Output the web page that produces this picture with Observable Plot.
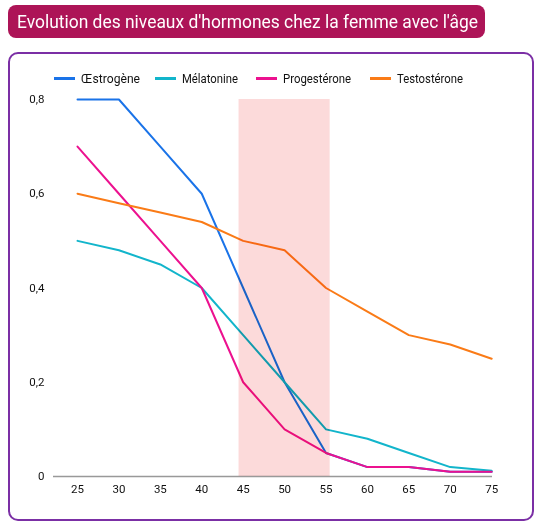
<!DOCTYPE html>
<html>
<head>
<meta charset="utf-8">
<script src="https://cdn.jsdelivr.net/npm/d3@7"></script>
<script src="https://cdn.jsdelivr.net/npm/@observablehq/plot@0.6"></script>
<style>
  html, body { margin: 0; padding: 0; background: #fff; }
  body { font-family: Roboto, "Noto Sans", sans-serif; }
  #page { position: relative; width: 544px; height: 529px; overflow: hidden; }
  #title {
    position: absolute; left: 8px; top: 5px; width: 477px; height: 33px;
    background: #ad1457; border-radius: 8px;
  }
  #titleText {
    position: absolute; left: 17px; top: 5px; height: 33px; line-height: 33px;
    color: #fff; font-size: 18px; white-space: nowrap; transform-origin: 0 50%;
  }
  #card {
    position: absolute; left: 8px; top: 52px; width: 526px; height: 469px;
    box-sizing: border-box; border: 2px solid #7b2fa5; border-radius: 10px;
  }
  .sw { position: absolute; top: 77px; width: 21px; height: 2.5px; }
  .lt { position: absolute; top: 70px; height: 16px; line-height: 16px; font-size: 13.5px; color: #111; white-space: nowrap; transform-origin: 0 50%; }
  #chart { position: absolute; left: 0; top: 90px; }
</style>
</head>
<body>
<div id="page">
  <div id="title"></div>
  <div id="titleText">Evolution des niveaux d'hormones chez la femme avec l'âge</div>
  <div id="card"></div>
  <div id="chart"></div>
</div>
<script>
const ages = [25, 30, 35, 40, 45, 50, 55, 60, 65, 70, 75];
const series = ["Œstrogène", "Mélatonine", "Progestérone", "Testostérone"];
const colors = ["#1a73e8", "#12b5cb", "#ec118f", "#fa7b17"];
const oestrogene   = [0.8, 0.8, 0.7, 0.6, 0.4, 0.2, 0.05, 0.02, 0.02, 0.01, 0.01];
const melatonine   = [0.5, 0.48, 0.45, 0.4, 0.3, 0.2, 0.1, 0.08, 0.05, 0.02, 0.012];
const progesterone = [0.7, 0.6, 0.5, 0.4, 0.2, 0.1, 0.05, 0.02, 0.02, 0.01, 0.01];
const testosterone = [0.6, 0.58, 0.56, 0.54, 0.5, 0.48, 0.4, 0.35, 0.3, 0.28, 0.25];
const yTicks = [0, 0.2, 0.4, 0.6, 0.8];
const menopauseBand = [{x1: 44.5, x2: 55.5, y1: 0, y2: 0.8}];

const values = [oestrogene, melatonine, progesterone, testosterone];
const rows = [];
series.forEach((s, i) => ages.forEach((a, j) => rows.push({serie: s, age: a, value: values[i][j]})));

// condense text horizontally to match the reference glyph widths
function fit(el, target) {
  const w = el.getBoundingClientRect().width;
  if (w > 0) el.style.transform = `scaleX(${target / w})`;
}
fit(document.getElementById("titleText"), 461);

// legend
const page = document.getElementById("page");
const legendText = [81, 182, 283, 397];
const legendWidth = [59, 56, 68, 66];
series.forEach((s, i) => {
  const sw = document.createElement("div");
  sw.className = "sw";
  sw.style.left = (legendText[i] - 27) + "px";
  sw.style.background = colors[i];
  page.appendChild(sw);
  const t = document.createElement("div");
  t.className = "lt";
  t.style.left = legendText[i] + "px";
  t.textContent = s;
  page.appendChild(t);
  fit(t, legendWidth[i]);
});

const fmt = d => d === 0 ? "0" : String(d).replace(".", ",");

const chart = Plot.plot({
  width: 544,
  height: 420,
  marginLeft: 53,
  marginRight: 52,
  marginTop: 9,
  marginBottom: 34,
  style: {fontFamily: "Roboto, sans-serif", fontSize: "11.5px", color: "#111", background: "transparent"},
  x: {domain: [22.1, 75.1], ticks: ages, tickSize: 0, tickPadding: 8, tickFormat: d => String(d), label: null},
  y: {domain: [0, 0.8], ticks: yTicks, tickSize: 0, tickPadding: 9, tickFormat: fmt, label: null},
  color: {domain: series, range: colors},
  marks: [
    Plot.ruleY([0], {stroke: "#999", strokeWidth: 1.5}),
    Plot.line(rows, {x: "age", y: "value", z: "serie", stroke: "serie", strokeWidth: 2}),
    Plot.rect(menopauseBand, {x1: "x1", x2: "x2", y1: "y1", y2: "y2", fill: "#fcdada", mixBlendMode: "multiply"})
  ]
});
document.getElementById("chart").appendChild(chart);
</script>
</body>
</html>
